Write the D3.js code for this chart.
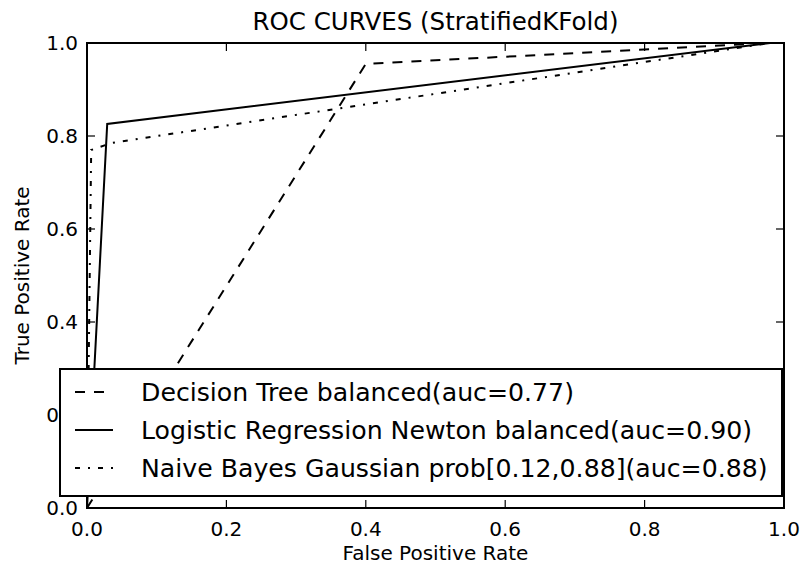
<!DOCTYPE html>
<html lang="en">
  <head>
    <meta charset="UTF-8">
    <title>ROC CURVES (StratifiedKFold)</title>
    <style>
      body { margin: 0; background: #fff; }
      svg { display: block; font-family: "DejaVu Sans", sans-serif; }
      .tick-label { font-size: 20px; fill: #000; }
      .axis-label { font-size: 20px; fill: #000; }
      .title { font-size: 24.5px; fill: #000; }
      .legend-text { font-size: 25.2px; fill: #000; }
    </style>
    <script src="https://d3js.org/d3.v7.min.js"></script>
  </head>
  <body>
    <script>
      // values
      const xTicks = [0, 0.2, 0.4, 0.6, 0.8, 1.0];
      const yTicks = [0, 0.2, 0.4, 0.6, 0.8, 1.0];

      const dtFpr = [0, 0.40, 0.98];
      const dtTpr = [0, 0.955, 1];
      const lrFpr = [0, 0.029, 0.98];
      const lrTpr = [0, 0.826, 1];
      const nbFpr = [0, 0.006, 0.035, 0.98];
      const nbTpr = [0, 0.77, 0.785, 1];

      const labels = [
        "Decision Tree balanced(auc=0.77)",
        "Logistic Regression Newton balanced(auc=0.90)",
        "Naive Bayes Gaussian prob[0.12,0.88](auc=0.88)"
      ];
      const dashes = ["10,9", null, "5,8,2,8"];

      const W = 803, H = 568;
      const margin = { top: 43, right: 19, bottom: 60, left: 87 };
      const width = W - margin.left - margin.right;
      const height = H - margin.top - margin.bottom;

      const svg = d3.select("body").append("svg")
        .attr("width", W)
        .attr("height", H);

      const g = svg.append("g")
        .attr("transform", `translate(${margin.left},${margin.top})`);

      const x = d3.scaleLinear().domain([0, 1]).range([0, width]);
      const y = d3.scaleLinear().domain([0, 1]).range([height, 0]);

      const series = [
        dtFpr.map((v, i) => [v, dtTpr[i]]),
        lrFpr.map((v, i) => [v, lrTpr[i]]),
        nbFpr.map((v, i) => [v, nbTpr[i]])
      ];

      const line = d3.line().x(d => x(d[0])).y(d => y(d[1]));

      g.selectAll(".curve")
        .data(series)
        .enter()
        .append("path")
        .attr("class", "curve")
        .attr("d", line)
        .attr("fill", "none")
        .attr("stroke", "#000")
        .attr("stroke-width", 2)
        .attr("stroke-dasharray", (d, i) => dashes[i]);

      // inward ticks on all four sides
      const tl = 8;
      const ticks = g.append("g").attr("stroke", "#000").attr("stroke-width", 1.2);
      xTicks.forEach(t => {
        ticks.append("line").attr("x1", x(t)).attr("x2", x(t)).attr("y1", height).attr("y2", height - tl);
        ticks.append("line").attr("x1", x(t)).attr("x2", x(t)).attr("y1", 0).attr("y2", tl);
      });
      yTicks.forEach(t => {
        ticks.append("line").attr("x1", 0).attr("x2", tl).attr("y1", y(t)).attr("y2", y(t));
        ticks.append("line").attr("x1", width).attr("x2", width - tl).attr("y1", y(t)).attr("y2", y(t));
      });

      g.append("rect")
        .attr("width", width)
        .attr("height", height)
        .attr("fill", "none")
        .attr("stroke", "#000")
        .attr("stroke-width", 2);

      g.selectAll(".xt")
        .data(xTicks)
        .enter()
        .append("text")
        .attr("class", "tick-label")
        .attr("text-anchor", "middle")
        .attr("x", d => x(d))
        .attr("y", height + 28)
        .text(d => d.toFixed(1));

      g.selectAll(".yt")
        .data(yTicks)
        .enter()
        .append("text")
        .attr("class", "tick-label")
        .attr("text-anchor", "end")
        .attr("x", -9)
        .attr("y", d => y(d) + 7)
        .text(d => d.toFixed(1));

      svg.append("text")
        .attr("class", "title")
        .attr("text-anchor", "middle")
        .attr("x", margin.left + width / 2)
        .attr("y", 30)
        .text("ROC CURVES (StratifiedKFold)");

      svg.append("text")
        .attr("class", "axis-label")
        .attr("text-anchor", "middle")
        .attr("x", margin.left + width / 2)
        .attr("y", 560)
        .text("False Positive Rate");

      svg.append("text")
        .attr("class", "axis-label")
        .attr("text-anchor", "middle")
        .attr("transform", `translate(29,${margin.top + height / 2}) rotate(-90)`)
        .text("True Positive Rate");

      // legend
      const legend = svg.append("g").attr("transform", "translate(60,369)");
      legend.append("rect")
        .attr("width", 722)
        .attr("height", 127)
        .attr("fill", "#fff")
        .attr("stroke", "#000")
        .attr("stroke-width", 2);

      labels.forEach((lab, i) => {
        const ly = 23 + i * 38;
        legend.append("line")
          .attr("x1", 15).attr("x2", 53)
          .attr("y1", ly).attr("y2", ly)
          .attr("stroke", "#000")
          .attr("stroke-width", 2)
          .attr("stroke-dasharray", dashes[i]);
        legend.append("text")
          .attr("class", "legend-text")
          .attr("x", 81)
          .attr("y", ly + 9)
          .text(lab);
      });
    </script>
  </body>
</html>
